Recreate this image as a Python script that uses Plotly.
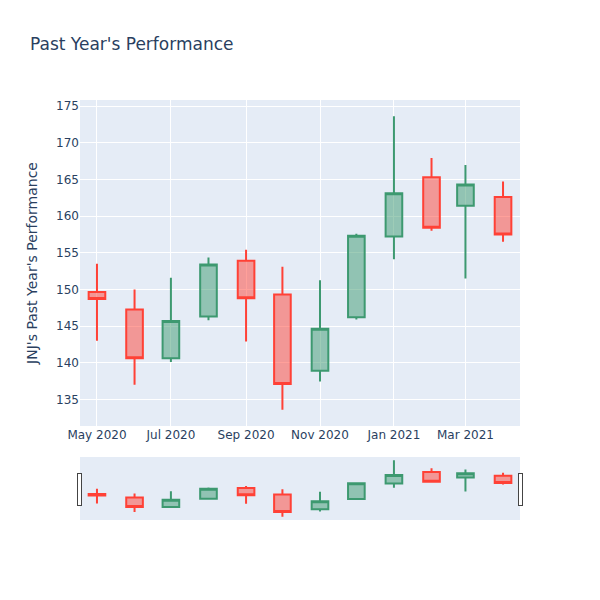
"""JNJ past year's monthly performance — candlestick (Plotly)."""

import plotly.graph_objects as go

dates = [
    "2020-05-01", "2020-06-01", "2020-07-01", "2020-08-01",
    "2020-09-01", "2020-10-01", "2020-11-01", "2020-12-01",
    "2021-01-01", "2021-02-01", "2021-03-01", "2021-04-01",
]
opens = [149.65, 147.25, 140.6, 146.3, 153.9, 149.3, 138.9, 146.2, 157.2, 165.3, 161.4, 162.6]
highs = [153.5, 150.0, 151.6, 154.35, 155.4, 153.1, 151.25, 157.6, 173.6, 167.9, 166.95, 164.7]
lows = [143.0, 137.0, 140.1, 145.8, 142.9, 133.6, 137.46, 145.9, 154.1, 158.0, 151.5, 156.5]
closes = [148.7, 140.6, 145.7, 153.4, 148.8, 137.1, 144.65, 157.3, 163.1, 158.4, 164.3, 157.5]

fig = go.Figure()
fig.add_trace(go.Candlestick(
    x=dates,
    open=opens,
    high=highs,
    low=lows,
    close=closes,
))

fig.update_layout(
    width=600,
    height=600,
    font=dict(family="DejaVu Sans"),
    title=dict(text="Past Year's Performance"),
    yaxis=dict(title=dict(text="JNJ's Past Year's Performance")),
)

# page margin off so the 600x600 figure sits at the window origin
fig.write_html(
    "out.html",
    config={"displayModeBar": False},
    post_script="document.body.style.margin = '0';",
)
